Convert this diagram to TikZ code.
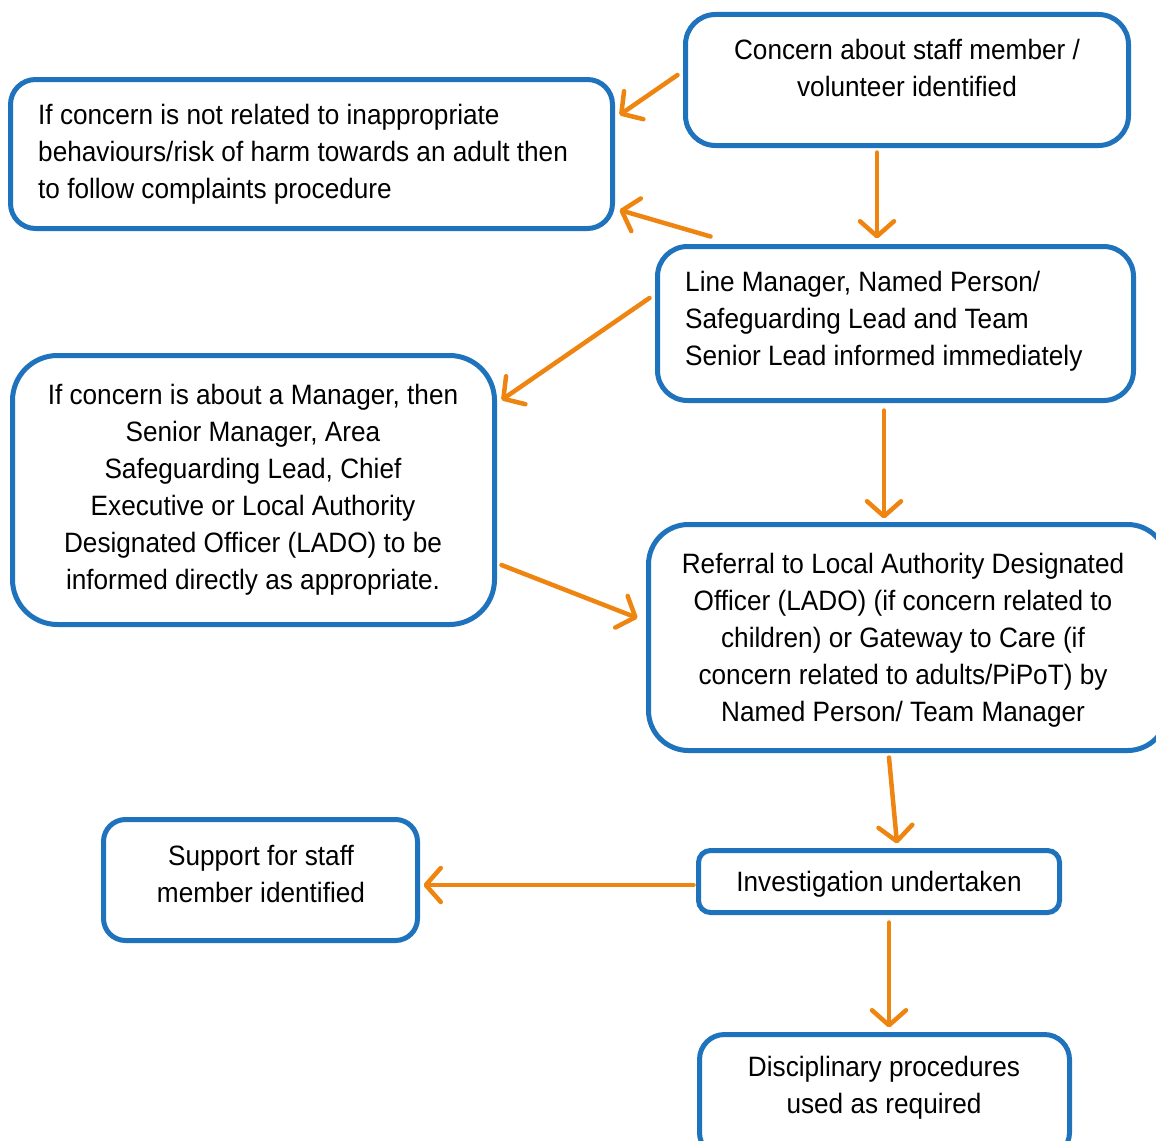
\documentclass[tikz,border=0pt]{standalone}
\usepackage{fontspec}
\setmainfont[FakeStretch=0.935]{Liberation Sans}
\usetikzlibrary{arrows.meta,calc}
\definecolor{boxblue}{RGB}{31,115,188}
\definecolor{arrorange}{RGB}{238,133,16}
\begin{document}
\begin{tikzpicture}[x=1pt,y=-1pt,
 box/.style={draw=boxblue,line width=5pt,rounded corners=#1,inner sep=0pt,fill=white},
 box/.default=25pt,
 txt/.style={font=\fontsize{28}{37}\selectfont,inner sep=0pt},
 conn/.style={draw=arrorange,line width=4.5pt,line cap=round,-{Straight Barb[length=15pt,width=34pt,line cap=round,line join=round]}}]
\useasboundingbox (0,0) rectangle (1156,1140);
\clip (0,0) rectangle (1156,1140);
% boxes
\node[box=30pt,minimum width=443pt,minimum height=131pt] (A) at (907,80) {};
\node[box=25pt,minimum width=602pt,minimum height=149pt] (B) at (311.5,154) {};
\node[box=30pt,minimum width=476pt,minimum height=154pt] (C) at (895.5,323.5) {};
\node[box=45pt,minimum width=482pt,minimum height=269pt] (D) at (253.5,490) {};
\node[box=40pt,minimum width=519pt,minimum height=226pt] (E) at (908,637.5) {};
\node[box=22pt,minimum width=314pt,minimum height=121pt] (F) at (260.5,880) {};
\node[box=12pt,minimum width=361pt,minimum height=62pt] (G) at (879,881.5) {};
\node[box=25pt,minimum width=370pt,minimum height=123pt] (H) at (884.5,1096) {};
% texts
\node[txt,align=center] (At) at (907,68) {Concern about staff member /\\volunteer identified};
\node[txt,align=left,anchor=west] (Bt) at (38,154) {If concern is not related to inappropriate\\behaviours/risk of harm towards an adult then\\to follow complaints procedure};
\node[txt,align=left,anchor=west] (Ct) at (685,321) {Line Manager, Named Person/\\Safeguarding Lead and Team\\Senior Lead informed immediately};
\node[txt,align=center] (Dt) at (253,490) {If concern is about a Manager, then\\Senior Manager, Area\\Safeguarding Lead, Chief\\Executive or Local Authority\\Designated Officer (LADO) to be\\informed directly as appropriate.};
\node[txt,align=center] (Et) at (903,640) {Referral to Local Authority Designated\\Officer (LADO) (if concern related to\\children) or Gateway to Care (if\\concern related to adults/PiPoT) by\\Named Person/ Team Manager};
\node[txt,align=center] (Ft) at (261,874) {Support for staff\\member identified};
\node[txt,align=center] (Gt) at (879,884) {Investigation undertaken};
\node[txt,align=center] (Ht) at (884,1088) {Disciplinary procedures\\used as required};
% connectors
\draw[conn] ($(A.west)+(-5.5,-5)$) -- ($(B.east)+(4.5,-39)$);
\draw[conn] ($(C.north west)+(55.5,-7.5)$) -- ($(B.east)+(4.5,56)$);
\draw[conn] ($(A.south)+(-30,4.5)$) -- ($(C.north)+(-18.5,-5.5)$);
\draw[conn] ($(C.west)+(-5.5,-25.5)$) -- ($(D.east)+(4.5,-90)$);
\draw[conn] ($(C.south)+(-11.5,7.5)$) -- ($(E.north)+(-24,-3.5)$);
\draw[conn] ($(D.east)+(4.5,75)$) -- ($(E.west)+(-8.5,-19.5)$);
\draw[conn] ($(E.south)+(-19,4.5)$) -- ($(G.north)+(18,-4.5)$);
\draw[conn] ($(G.west)+(-2.5,3.5)$) -- ($(F.east)+(3.5,5)$);
\draw[conn] ($(G.south)+(10,7.5)$) -- ($(H.north)+(4.5,-4.5)$);
\end{tikzpicture}
\end{document}
